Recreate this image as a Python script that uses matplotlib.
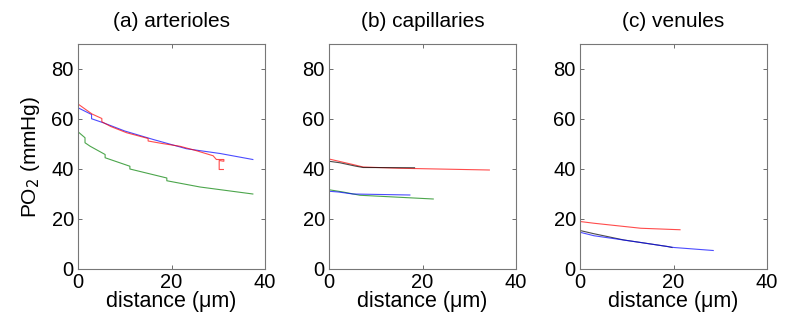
import matplotlib
matplotlib.use("Agg")
import matplotlib.pyplot as plt

plt.rcParams['font.family'] = ['Liberation Sans', 'DejaVu Sans']

titles = ["(a) arterioles", "(b) capillaries", "(c) venules"]
xticks = [0, 20, 40]
yticks = [0, 20, 40, 60, 80]

# panel (a) arterioles
a_red_x = [0, 1.5, 3, 5.1, 5.1, 7, 10.4, 15, 15, 18, 21.8, 25, 28.9, 29.6, 31.2, 31.2, 30.2, 30.2, 31.1]
a_red_y = [66, 64, 62, 60.2, 58.9, 57, 54.5, 52.2, 51.2, 50.2, 49.1, 47.5, 45.3, 43.8, 43.8, 43.1, 43.4, 39.8, 39.8]
a_blue_x = [0, 2.9, 2.9, 5.4, 10, 16.1, 23.2, 30.4, 37.4]
a_blue_y = [64.5, 61.8, 60.1, 58.5, 55.2, 51.8, 48.1, 46.2, 43.8]
a_green_x = [0, 1.5, 1.5, 2.6, 5.8, 5.8, 11.1, 11.1, 19, 19, 26.1, 37.4]
a_green_y = [54.9, 52.5, 50.5, 49.1, 45.8, 44.5, 41.1, 40.0, 36.4, 35.3, 32.8, 30.0]

# panel (b) capillaries
b_red_x = [0, 5.1, 7.3, 15, 34.3]
b_red_y = [44.0, 41.8, 40.8, 40.3, 39.6]
b_black_x = [0, 2.3, 5.8, 7.3, 18.3]
b_black_y = [43.1, 42.5, 41.1, 40.6, 40.5]
b_blue_x = [0, 2, 5.1, 17.3]
b_blue_y = [31.1, 30.8, 30.0, 29.6]
b_green_x = [0, 3, 6.6, 22.3]
b_green_y = [31.7, 30.8, 29.5, 28.0]

# panel (c) venules
c_red_x = [0, 3.0, 13, 21.4]
c_red_y = [19.0, 18.3, 16.3, 15.7]
c_black_x = [0, 3.0, 9.4, 18.7, 19.7]
c_black_y = [15.4, 14.1, 11.6, 9.0, 8.6]
c_blue_x = [0, 3.0, 13, 20.1, 28.5]
c_blue_y = [14.7, 13.3, 10.6, 8.6, 7.4]

panels = [
    [(a_green_x, a_green_y, 'green'), (a_blue_x, a_blue_y, 'blue'), (a_red_x, a_red_y, 'red')],
    [(b_green_x, b_green_y, 'green'), (b_blue_x, b_blue_y, 'blue'), (b_red_x, b_red_y, 'red'), (b_black_x, b_black_y, 'black')],
    [(c_red_x, c_red_y, 'red'), (c_black_x, c_black_y, 'black'), (c_blue_x, c_blue_y, 'blue')],
]

fig = plt.figure(figsize=(7.87, 3.27), dpi=100)
lefts = [78/787, 329/787, 580/787]
w = 187/787
bottom = 1 - 269/327
h = 225/327

for i, (left, lines) in enumerate(zip(lefts, panels)):
    ax = fig.add_axes([left, bottom, w, h])
    for x, y, c in lines:
        ax.plot(x, y, color=c, lw=0.8, alpha=0.7)
    ax.set_xlim(0, 40)
    ax.set_ylim(0, 90)
    ax.set_xticks(xticks)
    ax.set_yticks(yticks)
    ax.tick_params(direction='in', length=3, width=0.6, top=True, right=True,
                   labelsize=14.5, colors='#555555', labelcolor='black')
    ax.tick_params(axis='x', pad=3)
    ax.tick_params(axis='y', pad=3)
    for s in ax.spines.values():
        s.set_color('#777777')
        s.set_linewidth(0.8)
    ax.set_title(titles[i], fontsize=15, pad=12)
    ax.set_xlabel("distance (μm)", fontsize=15.5, labelpad=-1)
    if i == 0:
        ax.set_ylabel("PO$_2$ (mmHg)", fontsize=15, labelpad=7)

fig.savefig("out.png", dpi=100)
